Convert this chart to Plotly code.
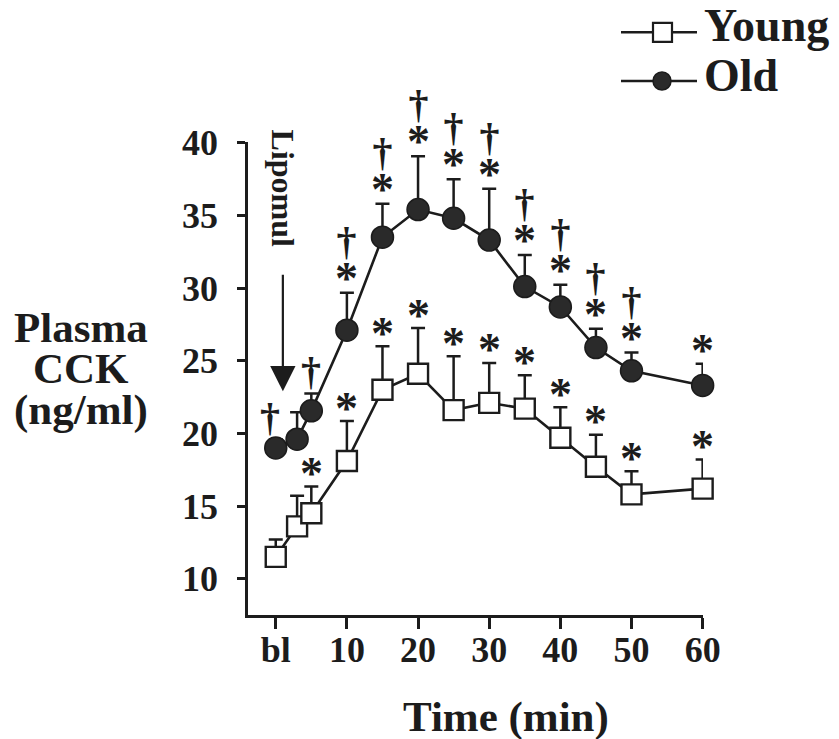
import plotly.graph_objects as go

# ---------------- data ----------------
time_min = [0, 3, 5, 10, 15, 20, 25, 30, 35, 40, 45, 50, 60]
tick_vals = [0, 10, 20, 30, 40, 50, 60]
tick_text = ["bl", "10", "20", "30", "40", "50", "60"]
y_ticks = [10, 15, 20, 25, 30, 35, 40]

young_mean = [11.5, 13.6, 14.5, 18.1, 23.0, 24.1, 21.6, 22.1, 21.7, 19.7, 17.7, 15.8, 16.2]
young_sem = [1.2, 2.1, 1.85, 2.75, 3.0, 3.15, 3.7, 2.75, 2.3, 2.1, 2.2, 1.6, 2.0]
old_mean = [19.0, 19.6, 21.55, 27.1, 33.5, 35.4, 34.8, 33.3, 30.1, 28.7, 25.9, 24.3, 23.3]
old_sem = [0.6, 1.85, 1.2, 2.57, 2.3, 3.67, 2.68, 3.53, 2.18, 1.53, 1.3, 1.26, 1.49]

young_star = [0, 0, 1, 1, 1, 1, 1, 1, 1, 1, 1, 1, 1]
old_star = [0, 0, 0, 1, 1, 1, 1, 1, 1, 1, 1, 1, 1]
old_dagger = [1, 0, 1, 1, 1, 1, 1, 1, 1, 1, 1, 1, 0]

# ---------------- layout helpers ----------------
W, H = 839, 739
L, R, T, B = 248, 136, 142, 124
PW, PH = W - L - R, H - T - B


def px(x):
    return (x - L) / PW


def py(y):
    return 1 - (y - T) / PH


FONT = "Liberation Serif"
INK = "#1c1c1c"

fig = go.Figure()

fig.add_trace(go.Scatter(
    x=time_min, y=young_mean, mode="lines+markers", name="Young",
    line=dict(color=INK, width=2.6),
    marker=dict(symbol="square", size=20, color="white", line=dict(color=INK, width=2.4)),
    error_y=dict(type="data", array=young_sem, arrayminus=[0] * len(young_sem), symmetric=False,
                 color=INK, thickness=2.5, width=7),
    cliponaxis=False, showlegend=False,
))
fig.add_trace(go.Scatter(
    x=time_min, y=old_mean, mode="lines+markers", name="Old",
    line=dict(color=INK, width=2.6),
    marker=dict(symbol="circle", size=22, color="#2a2a2a", line=dict(color=INK, width=1.5)),
    error_y=dict(type="data", array=old_sem, arrayminus=[0] * len(old_sem), symmetric=False,
                 color=INK, thickness=2.5, width=7),
    cliponaxis=False, showlegend=False,
))

annotations = []
STAR = "<span style='font-size:46px'><b>*</b></span>"
DAG = "<span style='font-size:40px'><b>†</b></span>"

for xi, m, e, s in zip(time_min, young_mean, young_sem, young_star):
    if s:
        annotations.append(dict(x=xi, y=m + e, xref="x", yref="y", text=STAR, showarrow=False,
                                yanchor="middle", yshift=13,
                                font=dict(family=FONT, size=40, color=INK)))
for i, (xi, m, e, s, d) in enumerate(zip(time_min, old_mean, old_sem, old_star, old_dagger)):
    if s and d:
        annotations.append(dict(x=xi, y=m + e, xref="x", yref="y", text=DAG + "<br>" + STAR,
                                showarrow=False, yanchor="bottom", yshift=-13,
                                font=dict(family=FONT, size=30, color=INK)))
    elif s:
        annotations.append(dict(x=xi, y=m + e, xref="x", yref="y", text=STAR, showarrow=False,
                                yanchor="middle", yshift=13,
                                font=dict(family=FONT, size=40, color=INK)))
    elif d:
        annotations.append(dict(x=xi, y=m + e, xref="x", yref="y", text=DAG, showarrow=False,
                                yanchor="middle", yshift=22, xshift=-6 if i == 0 else 0,
                                font=dict(family=FONT, size=40, color=INK)))

# Lipomul label and arrow
annotations.append(dict(x=1.05, y=36.9, xref="x", yref="y", text="<b>Lipomul</b>", textangle=90,
                        showarrow=False, font=dict(family=FONT, size=32, color=INK)))
annotations.append(dict(x=1.0, y=22.9, xref="x", yref="y", text="", showarrow=True,
                        ax=0, ay=-118, arrowhead=2, arrowsize=2.3, arrowwidth=2.2, arrowcolor=INK))

# Y title (three lines)
for txt, yc in [("Plasma", 327), ("CCK", 368.5), ("(ng/ml)", 410)]:
    annotations.append(dict(x=px(81), y=py(yc), xref="paper", yref="paper", text=f"<b>{txt}</b>",
                            showarrow=False, xanchor="center", yanchor="middle",
                            font=dict(family=FONT, size=43, color=INK)))
# X title
annotations.append(dict(x=px(506), y=py(717), xref="paper", yref="paper", text="<b>Time (min)</b>",
                        showarrow=False, xanchor="center", yanchor="middle",
                        font=dict(family=FONT, size=43, color=INK)))

# Legend text
for txt, yc in [("Young", 26), ("Old", 76)]:
    annotations.append(dict(x=px(702), y=py(yc), xref="paper", yref="paper", text=f"<b>{txt}</b>",
                            showarrow=False, xanchor="left", yanchor="middle",
                            font=dict(family=FONT, size=46, color=INK)))

shapes = []
# legend keys
for yc in [32.3, 81]:
    shapes.append(dict(type="line", xref="paper", yref="paper", x0=px(621), x1=px(697),
                       y0=py(yc), y1=py(yc), line=dict(color=INK, width=2.6)))
shapes.append(dict(type="rect", xref="paper", yref="paper", x0=px(653), x1=px(672),
                   y0=py(41.8), y1=py(22.8), fillcolor="white", line=dict(color=INK, width=2.2)))
shapes.append(dict(type="circle", xref="paper", yref="paper", x0=px(653), x1=px(671),
                   y0=py(90), y1=py(72), fillcolor="#2a2a2a", line=dict(color=INK, width=1.5)))

tickfont = dict(family=FONT, size=36, color=INK, weight="bold")

fig.update_layout(
    width=W, height=H,
    margin=dict(l=L, r=R, t=T, b=B, pad=0),
    paper_bgcolor="white", plot_bgcolor="white",
    annotations=annotations, shapes=shapes,
    showlegend=False,
    xaxis=dict(range=[-3.9, 60.05], tickvals=tick_vals, ticktext=tick_text,
               showline=True, linecolor=INK, linewidth=2.5, ticks="outside", ticklen=11,
               tickwidth=2.5, tickcolor=INK, showgrid=False, zeroline=False,
               tickfont=tickfont, ticklabelstandoff=-10),
    yaxis=dict(range=[7.5, 40.05], tickvals=y_ticks,
               showline=True, linecolor=INK, linewidth=2.5, ticks="outside", ticklen=8,
               tickwidth=2.5, tickcolor=INK, showgrid=False, zeroline=False,
               tickfont=tickfont, ticklabelstandoff=12),
)

fig.write_html("out.html")
